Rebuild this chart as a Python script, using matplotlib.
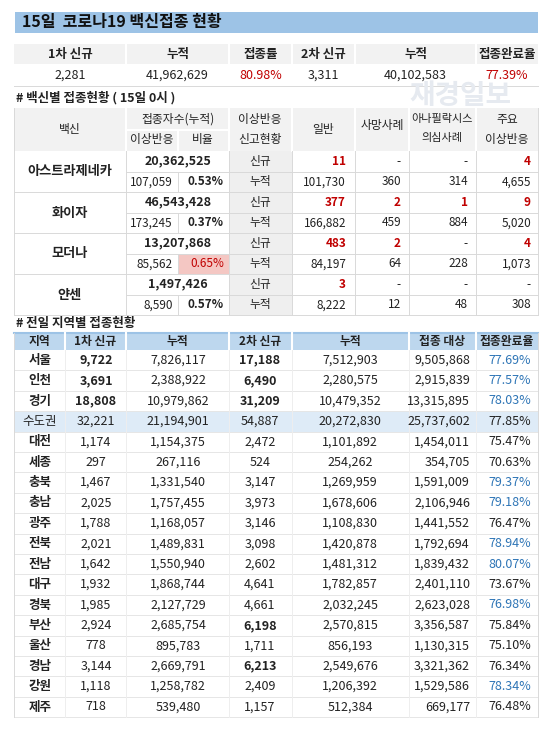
import matplotlib
matplotlib.use("Agg")
import matplotlib.pyplot as plt
from matplotlib.patches import Rectangle

plt.rcParams['font.family'] = ['Noto Sans CJK KR', 'DejaVu Sans']

title = "15일  코로나19 백신접종 현황"
sum_headers = ["1차 신규", "누적", "접종률", "2차 신규", "누적", "접종완료율"]
sum_values = ["2,281", "41,962,629", "80.98%", "3,311", "40,102,583", "77.39%"]

vaccines = ["아스트라제네카", "화이자", "모더나", "얀센"]
vac_total = ["20,362,525", "46,543,428", "13,207,868", "1,497,426"]
vac_adverse = ["107,059", "173,245", "85,562", "8,590"]
vac_ratio = ["0.53%", "0.37%", "0.65%", "0.57%"]
vac_new = [["11", "-", "-", "4"], ["377", "2", "1", "9"], ["483", "2", "-", "4"], ["3", "-", "-", "-"]]
vac_cum = [["101,730", "360", "314", "4,655"], ["166,882", "459", "884", "5,020"],
           ["84,197", "64", "228", "1,073"], ["8,222", "12", "48", "308"]]

reg_headers = ["지역", "1차 신규", "누적", "2차 신규", "누적", "접종 대상", "접종완료율"]
regions = ["서울", "인천", "경기", "수도권", "대전", "세종", "충북", "충남", "광주", "전북", "전남",
           "대구", "경북", "부산", "울산", "경남", "강원", "제주"]
first_new = ["9,722", "3,691", "18,808", "32,221", "1,174", "297", "1,467", "2,025", "1,788", "2,021",
             "1,642", "1,932", "1,985", "2,924", "778", "3,144", "1,118", "718"]
first_cum = ["7,826,117", "2,388,922", "10,979,862", "21,194,901", "1,154,375", "267,116", "1,331,540",
             "1,757,455", "1,168,057", "1,489,831", "1,550,940", "1,868,744", "2,127,729", "2,685,754",
             "895,783", "2,669,791", "1,258,782", "539,480"]
second_new = ["17,188", "6,490", "31,209", "54,887", "2,472", "524", "3,147", "3,973", "3,146", "3,098",
              "2,602", "4,641", "4,661", "6,198", "1,711", "6,213", "2,409", "1,157"]
second_cum = ["7,512,903", "2,280,575", "10,479,352", "20,272,830", "1,101,892", "254,262", "1,269,959",
              "1,678,606", "1,108,830", "1,420,878", "1,481,312", "1,782,857", "2,032,245", "2,570,815",
              "856,193", "2,549,676", "1,206,392", "512,384"]
target = ["9,505,868", "2,915,839", "13,315,895", "25,737,602", "1,454,011", "354,705", "1,591,009",
          "2,106,946", "1,441,552", "1,792,694", "1,839,432", "2,401,110", "2,623,028", "3,356,587",
          "1,130,315", "3,321,362", "1,529,586", "669,177"]
rate = ["77.69%", "77.57%", "78.03%", "77.85%", "75.47%", "70.63%", "79.37%", "79.18%", "76.47%", "78.94%",
        "80.07%", "73.67%", "76.98%", "75.84%", "75.10%", "76.34%", "78.34%", "76.48%"]
blue_rows = {"서울", "인천", "경기", "충북", "충남", "전북", "전남", "경북", "강원"}
bold_first = {"서울", "인천", "경기"}
bold_second = {"서울", "인천", "경기", "부산", "경남"}

RED = "#c00000"
BLUE = "#2e75b6"
LINE = "#d9d9d9"
DARK = "#222222"

fig = plt.figure(figsize=(5.5, 7.33), dpi=100)
ax = fig.add_axes([0, 0, 1, 1])
ax.set_xlim(0, 550)
ax.set_ylim(733, 0)
ax.axis("off")

def rect(x0, y0, x1, y1, fc):
    ax.add_patch(Rectangle((x0, y0), x1 - x0, y1 - y0, facecolor=fc, edgecolor="none"))

def txt(x, y, s, ha="center", size=8.5, color=DARK, bold=False):
    ax.text(x, y, s, ha=ha, va="center", fontsize=size, color=color,
            fontweight="bold" if bold else "normal")

def hline(x0, x1, y, c=LINE, lw=0.7):
    ax.plot([x0, x1], [y, y], color=c, lw=lw)

def vline(x, y0, y1, c=LINE, lw=0.7):
    ax.plot([x, x], [y0, y1], color=c, lw=lw)

# watermark
ax.text(460, 96, "재경일보", fontsize=20, color="#e6eaf0", ha="center", va="center", fontweight="bold")

# title bar
rect(15, 12, 538, 33, "#9dc3e6")
txt(22, 22, title, ha="left", size=11.5, bold=True, color="#111111")

# summary table
cx = [14, 126, 229, 292, 355, 476, 538]
rect(14, 44, 538, 65, "#f2f2f2")
for i in range(6):
    m = (cx[i] + cx[i + 1]) / 2
    txt(m, 54.5, sum_headers[i], size=9, bold=True)
    txt(m, 75.5, sum_values[i], size=9, color=RED if i in (2, 5) else DARK)
for x in cx[1:-1]:
    vline(x, 44, 86, c="white", lw=1.5)
hline(14, 538, 65, c="white", lw=1.5)
hline(14, 538, 86)

# vaccine table
txt(16, 98, "# 백신별 접종현황 ( 15일 0시 )", ha="left", size=9, bold=True)
top, sub, hb = 108, 130, 151
rh = 20.5
bottom = hb + 8 * rh
rect(14, top, 538, hb, "#f2f2f2")
rect(229, hb, 292, bottom, "#efefef")
txt(70, 129, "백신", size=8.5)
txt(178, 119, "접종자수(누적)", size=8.5)
txt(152, 140, "이상반응", size=8.5)
txt(203, 140, "비율", size=8.5)
txt(260, 119, "이상반응", size=8.5)
txt(260, 140, "신고현황", size=8.5)
txt(323, 129, "일반", size=8.5)
txt(382, 125, "사망사례", size=8.5)
txt(442, 119, "아나필락시스", size=8)
txt(442, 138, "의심사례", size=8)
txt(507, 119, "주요", size=8.5)
txt(507, 140, "이상반응", size=8.5)
for x in [126, 229, 292, 355, 409, 476]:
    vline(x, top, hb, c="white", lw=1.5)
vline(178, sub, hb, c="white", lw=1.5)
hline(126, 229, sub, c="white", lw=1.5)
right_edges = [346, 401, 468, 531]
for k in range(4):
    y0 = hb + k * 2 * rh
    ym = y0 + rh
    y1 = y0 + 2 * rh
    if k == 2:
        rect(178, ym, 229, y1, "#f4c7c3")
    txt(70, ym, vaccines[k], size=9.5, bold=True)
    txt(178, y0 + rh / 2, vac_total[k], size=9, bold=True)
    txt(173, ym + rh / 2, vac_adverse[k], size=8.5, ha="right")
    txt(224, ym + rh / 2, vac_ratio[k], size=8.5, ha="right", bold=(k != 2),
        color=RED if k == 2 else DARK)
    txt(260, y0 + rh / 2, "신규", size=8.5)
    txt(260, ym + rh / 2, "누적", size=8.5)
    for j in range(4):
        v = vac_new[k][j]
        txt(right_edges[j], y0 + rh / 2, v, ha="right", size=8.5,
            bold=(v != "-"), color=RED if v != "-" else DARK)
        txt(right_edges[j], ym + rh / 2, vac_cum[k][j], ha="right", size=8.5)
    hline(126, 538, ym)
    hline(14, 538, y1)
    vline(178, ym, y1)
    for x in [126, 229, 292, 355, 409, 476]:
        vline(x, y0, y1)
vline(14, top, bottom)
vline(538, top, bottom)

# regional table
txt(16, 324, "# 전일 지역별 접종현황", ha="left", size=9, bold=True)
rx = [14, 65, 126, 229, 292, 409, 476, 538]
ht, hbot = 333, 350
rrh = 20.4
rect(14, ht, 538, hbot, "#bdd7ee")
hline(14, 538, ht, c="#9dc3e6", lw=1.5)
for i, h in enumerate(reg_headers):
    txt((rx[i] + rx[i + 1]) / 2, (ht + hbot) / 2, h, size=8.5, bold=True)
for x in rx[1:-1]:
    vline(x, ht, hbot, c="white", lw=1.5)
for r, name in enumerate(regions):
    y0 = hbot + r * rrh
    yc = y0 + rrh / 2
    if name == "수도권":
        rect(14, y0, 538, y0 + rrh, "#deebf7")
    txt(40, yc, name, size=9, bold=(name != "수도권"))
    txt(96, yc, first_new[r], size=9, bold=name in bold_first)
    txt(178, yc, first_cum[r], size=9)
    txt(260, yc, second_new[r], size=9, bold=name in bold_second)
    txt(350, yc, second_cum[r], size=9)
    txt(470, yc, target[r], size=9, ha="right")
    txt(531, yc, rate[r], size=9, ha="right", color=BLUE if name in blue_rows else DARK)
    hline(14, 538, y0 + rrh, c="#e6e6e6")
    for x in rx[1:-1]:
        vline(x, y0, y0 + rrh, c="#eeeeee")
vline(14, ht, hbot + 18 * rrh)
vline(538, ht, hbot + 18 * rrh)

fig.savefig("out.png")
